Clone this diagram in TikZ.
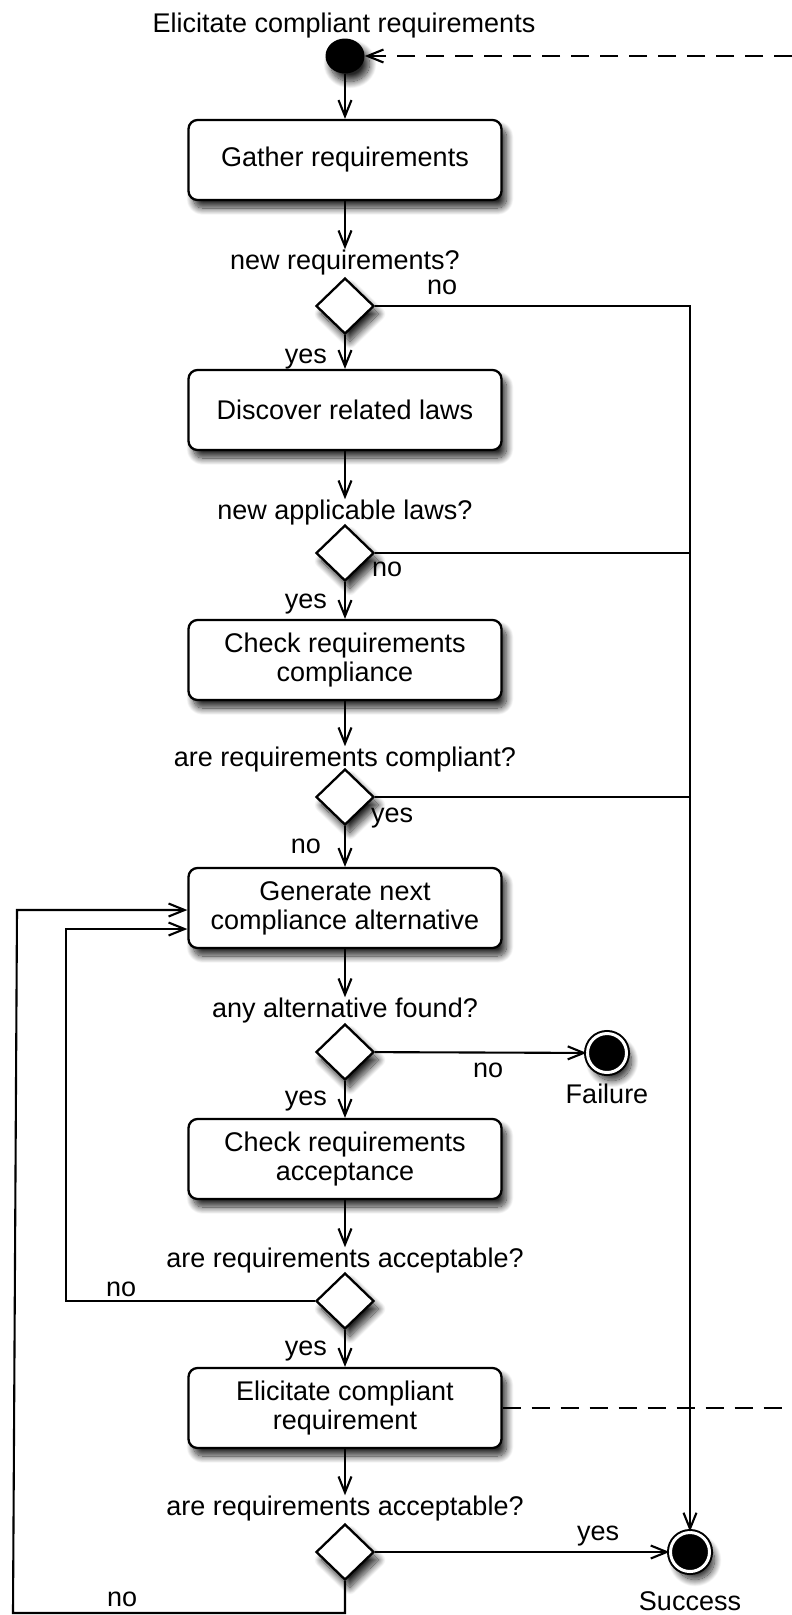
\documentclass[tikz,border=0pt]{standalone}
\usepackage{fontspec}
\setmainfont{Liberation Sans}
\usetikzlibrary{shapes.geometric, arrows.meta, shadows.blur}

\tikzset{
  every node/.style={font=\fontsize{27}{29}\selectfont},
  dropshadow/.style={blur shadow={shadow xshift=5pt, shadow yshift=-8pt, shadow blur radius=7pt, shadow opacity=85, shadow blur steps=18}},
  actbox/.style={draw, line width=2.3pt, fill=white, rounded corners=9pt, minimum width=313pt, minimum height=80pt, align=center, inner sep=0pt, dropshadow},
  decide/.style={draw, diamond, line width=2.3pt, fill=white, minimum width=58pt, minimum height=56pt, inner sep=0pt, dropshadow},
  startnode/.style={ellipse, fill=black, minimum width=39pt, minimum height=35pt, inner sep=0pt, dropshadow},
  endnode/.style={circle, draw=black, line width=2pt, double=white, double distance=3pt, fill=black, minimum size=39pt, inner sep=0pt, dropshadow},
  flow/.style={line width=2.1pt},
  arr/.style={flow, -{Straight Barb[length=16pt, width=13pt]}},
  dashline/.style={flow, dash pattern=on 18pt off 11pt},
  lbl/.style={inner sep=0pt, anchor=base},
}

\begin{document}
\begin{tikzpicture}[x=1pt, y=1pt]
  \useasboundingbox (0,0) rectangle (792,-1615);

  % main column
  \node[lbl] (title) at (344,-32) {Elicitate compliant requirements};
  \node[startnode] (start) at (345,-56) {};
  \node[actbox] (gather) at (345,-160) {Gather requirements};
  \node[lbl] (q1) at (345,-269) {new requirements?};
  \node[decide] (d1) at (345,-306) {};
  \node[actbox] (discover) at (345,-410) {Discover related laws};
  \node[lbl] (q2) at (345,-519) {new applicable laws?};
  \node[decide] (d2) at (345,-553) {};
  \node[actbox] (checkc) at (345,-660) {Check requirements\\compliance};
  \node[lbl] (q3) at (345,-766) {are requirements compliant?};
  \node[decide] (d3) at (345,-797) {};
  \node[actbox] (gen) at (345,-908) {Generate next\\compliance alternative};
  \node[lbl] (q4) at (345,-1017) {any alternative found?};
  \node[decide] (d4) at (345,-1052) {};
  \node[endnode] (fail) at (607,-1053) {};
  \node[lbl] (failtxt) at (607,-1103) {Failure};
  \node[actbox] (checka) at (345,-1159) {Check requirements\\acceptance};
  \node[lbl] (q5) at (345,-1267) {are requirements acceptable?};
  \node[decide] (d5) at (345,-1301) {};
  \node[actbox] (elicit) at (345,-1408) {Elicitate compliant\\requirement};
  \node[lbl] (q6) at (345,-1515) {are requirements acceptable?};
  \node[decide] (d6) at (345,-1552) {};
  \node[endnode] (succ) at (690,-1552) {};
  \node[lbl] (succtxt) at (690,-1610) {Success};

  % branch labels
  \node[lbl, anchor=base west] (n1) at (427,-294) {no};
  \node[lbl, anchor=base east] (y1) at (327,-363) {yes};
  \node[lbl, anchor=base west] (n2) at (372,-576) {no};
  \node[lbl, anchor=base east] (y2) at (327,-608) {yes};
  \node[lbl, anchor=base west] (y3) at (371,-822) {yes};
  \node[lbl, anchor=base east] (n3) at (321,-853) {no};
  \node[lbl, anchor=base west] (n4) at (473,-1077) {no};
  \node[lbl, anchor=base east] (y4) at (327,-1105) {yes};
  \node[lbl, anchor=base west] (n5) at (106,-1296) {no};
  \node[lbl, anchor=base east] (y5) at (327,-1355) {yes};
  \node[lbl, anchor=base west] (y6) at (577,-1540) {yes};
  \node[lbl, anchor=base west] (n6) at (107,-1606) {no};

  % loop corners and page-edge ends
  \coordinate (innerTop) at (66,-929);
  \coordinate (outerBot) at (13,-1613);
  \coordinate (outerTop) at (17,-910);
  \coordinate (dashTop) at (792,-56);
  \coordinate (dashBot) at (792,-1408);

  % vertical flow
  \draw[arr] (start) -- (gather);
  \draw[arr] (gather) -- (q1);
  \draw[arr] (d1) -- (discover);
  \draw[arr] (discover) -- (q2);
  \draw[arr] (d2) -- (checkc);
  \draw[arr] (checkc) -- (q3);
  \draw[arr] (d3) -- (gen);
  \draw[arr] (gen) -- (q4);
  \draw[arr] (d4) -- (checka);
  \draw[arr] (checka) -- (q5);
  \draw[arr] (d5) -- (elicit);
  \draw[arr] (elicit) -- (q6);

  % exits to the right
  \draw[arr] (d1.east) -| (succ.north);
  \draw[flow] (d2.east) -- (d2.east -| succ.north);
  \draw[flow] (d3.east) -- (d3.east -| succ.north);
  \draw[arr] (d4) -- (fail);
  \draw[arr] (d6) -- (succ);

  % loops back to alternative generation
  \draw[arr] (d5.west) -| (innerTop) -- (gen.west |- innerTop);
  \draw[arr] (d6.south) |- (outerBot) -- (outerTop) -- (gen.west |- outerTop);

  % dashed links
  \draw[dashline, arr] (dashTop) -- (start);
  \draw[dashline] (elicit) -- (dashBot);
\end{tikzpicture}
\end{document}
